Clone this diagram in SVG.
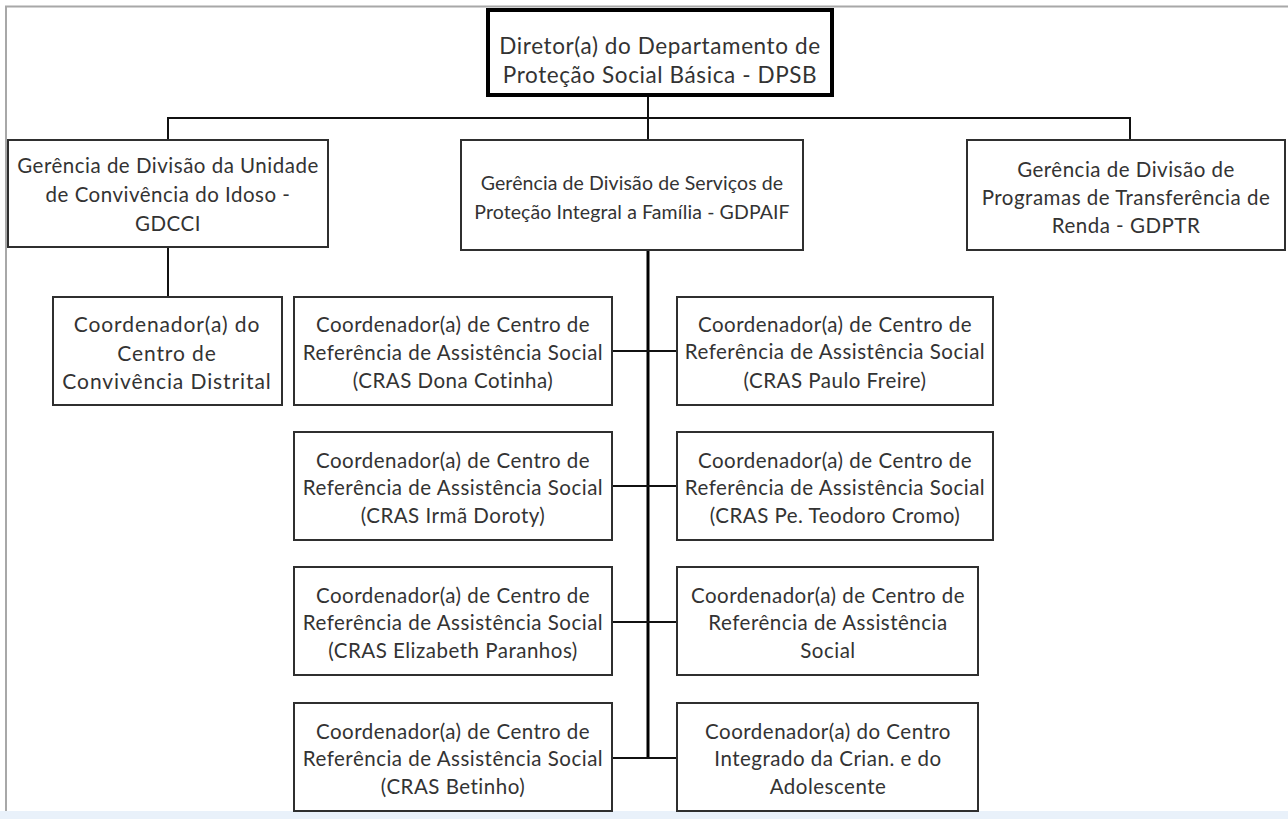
<svg xmlns="http://www.w3.org/2000/svg" width="1288" height="819" viewBox="0 0 1288 819">
<style>
.box{fill:#fff;stroke:#2f2f2f;stroke-width:2}
.t{font-family:Lato,"Open Sans","Liberation Sans",sans-serif;font-size:20.5px;letter-spacing:0.5px;fill:#333;text-anchor:middle}
.big{font-size:22.5px;letter-spacing:0.6px}
.mid{font-size:19.5px;letter-spacing:0.1px}
.wide{font-size:21px;letter-spacing:0.9px}
.c{stroke:#111;stroke-width:2;fill:none}
.spine{stroke:#000;stroke-width:3;fill:none}
</style>
<rect x="0" y="0" width="1288" height="819" fill="#fff"/>
<rect x="0" y="811" width="1288" height="8" fill="#e9f1fa"/>
<path d="M6 811 V6.5 H1288" fill="none" stroke="#a8a8a8" stroke-width="2"/>

<g id="connectors">
<path class="c" d="M648 95 V118 M168 140 V118 H1130 V140 M648 118 V140"/>
<path class="c" d="M168 247 V297"/>
<path class="spine" d="M648 250 V758"/>
<path class="c" d="M612 351 H677 M612 486 H677 M612 622 H677 M612 758 H677"/>
</g>

<g id="n-dpsb">
<rect x="488" y="10" width="344" height="85" fill="#fff" stroke="#000" stroke-width="4"/>
<text class="t big" x="660" y="54">Diretor(a) do Departamento de</text>
<text class="t big" x="660" y="83">Proteção Social Básica - DPSB</text>
</g>

<g id="n-gdcci">
<rect class="box" x="8" y="140" width="320" height="107"/>
<text class="t" x="168" y="173">Gerência de Divisão da Unidade</text>
<text class="t" x="168" y="202">de Convivência do Idoso -</text>
<text class="t" x="168" y="231">GDCCI</text>
</g>

<g id="n-gdpaif">
<rect class="box" x="461" y="140" width="342" height="110"/>
<text class="t mid" x="632" y="190">Gerência de Divisão de Serviços de</text>
<text class="t mid" x="632" y="219">Proteção Integral a Família - GDPAIF</text>
</g>

<g id="n-gdptr">
<rect class="box" x="967" y="140" width="318" height="110"/>
<text class="t" x="1126" y="177">Gerência de Divisão de</text>
<text class="t" x="1126" y="205">Programas de Transferência de</text>
<text class="t" x="1126" y="233">Renda - GDPTR</text>
</g>

<g id="n-distrital">
<rect class="box" x="53" y="297" width="229" height="108"/>
<text class="t wide" x="167" y="332">Coordenador(a) do</text>
<text class="t wide" x="167" y="361">Centro de</text>
<text class="t wide" x="167" y="389">Convivência Distrital</text>
</g>

<g id="n-cotinha">
<rect class="box" x="294" y="297" width="318" height="108"/>
<text class="t" x="453" y="332">Coordenador(a) de Centro de</text>
<text class="t" x="453" y="360">Referência de Assistência Social</text>
<text class="t" x="453" y="388">(CRAS Dona Cotinha)</text>
</g>

<g id="n-paulo">
<rect class="box" x="677" y="297" width="316" height="108"/>
<text class="t" x="835" y="332">Coordenador(a) de Centro de</text>
<text class="t" x="835" y="359">Referência de Assistência Social</text>
<text class="t" x="835" y="388">(CRAS Paulo Freire)</text>
</g>

<g id="n-doroty">
<rect class="box" x="294" y="432" width="318" height="108"/>
<text class="t" x="453" y="468">Coordenador(a) de Centro de</text>
<text class="t" x="453" y="495">Referência de Assistência Social</text>
<text class="t" x="453" y="523">(CRAS Irmã Doroty)</text>
</g>

<g id="n-teodoro">
<rect class="box" x="677" y="432" width="316" height="108"/>
<text class="t" x="835" y="468">Coordenador(a) de Centro de</text>
<text class="t" x="835" y="495">Referência de Assistência Social</text>
<text class="t" x="835" y="523">(CRAS Pe. Teodoro Cromo)</text>
</g>

<g id="n-elizabeth">
<rect class="box" x="294" y="567" width="318" height="108"/>
<text class="t" x="453" y="603">Coordenador(a) de Centro de</text>
<text class="t" x="453" y="630">Referência de Assistência Social</text>
<text class="t" x="453" y="658">(CRAS Elizabeth Paranhos)</text>
</g>

<g id="n-cras">
<rect class="box" x="677" y="567" width="301" height="108"/>
<text class="t" x="828" y="603">Coordenador(a) de Centro de</text>
<text class="t" x="828" y="630">Referência de Assistência</text>
<text class="t" x="828" y="658">Social</text>
</g>

<g id="n-betinho">
<rect class="box" x="294" y="703" width="318" height="108"/>
<text class="t" x="453" y="739">Coordenador(a) de Centro de</text>
<text class="t" x="453" y="766">Referência de Assistência Social</text>
<text class="t" x="453" y="794">(CRAS Betinho)</text>
</g>

<g id="n-ciad">
<rect class="box" x="677" y="703" width="301" height="108"/>
<text class="t" x="828" y="739">Coordenador(a) do Centro</text>
<text class="t" x="828" y="766">Integrado da Crian. e do</text>
<text class="t" x="828" y="794">Adolescente</text>
</g>
</svg>
